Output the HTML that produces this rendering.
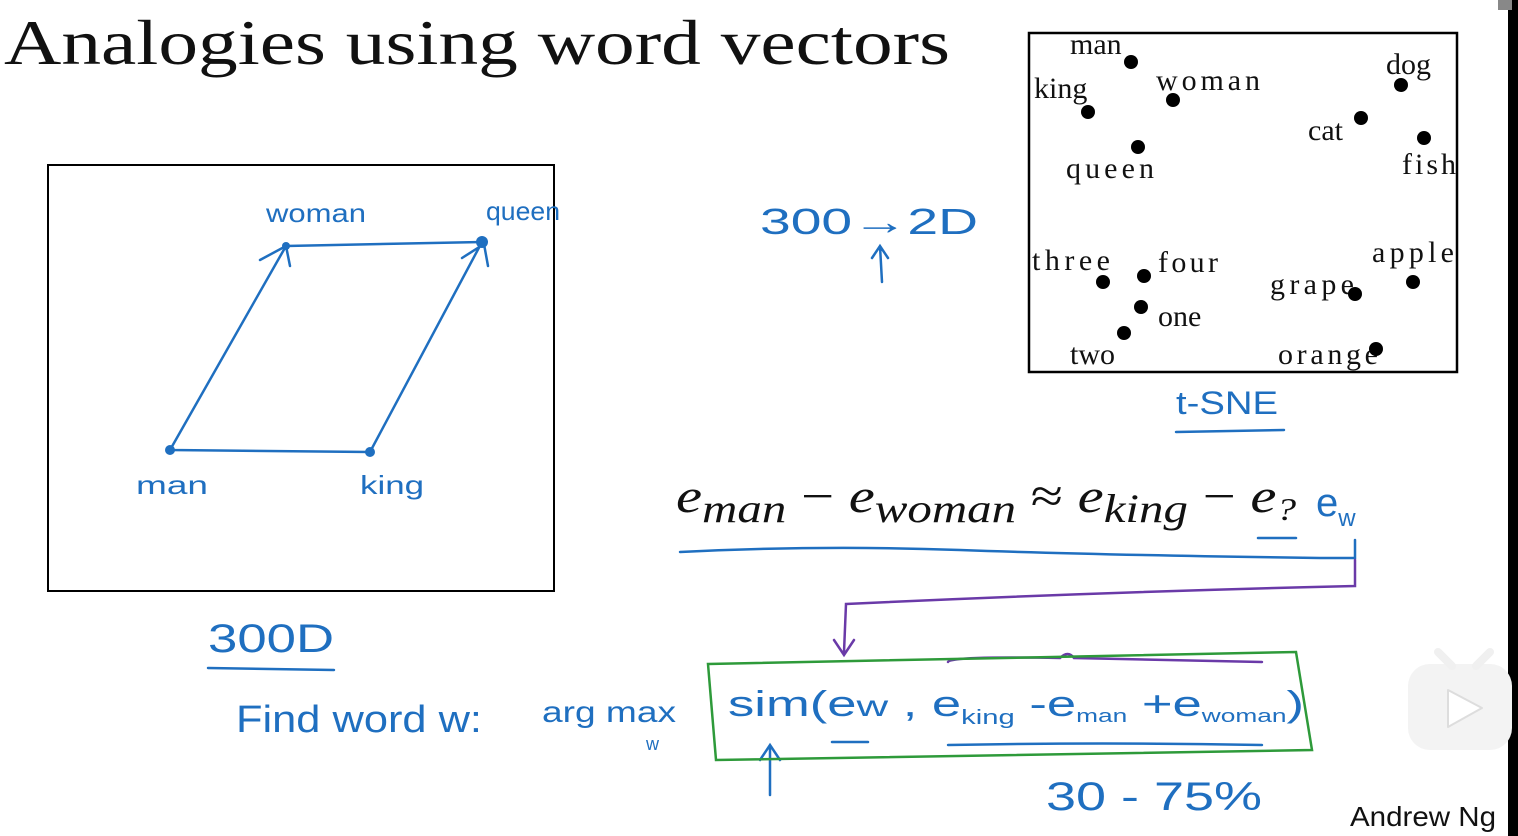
<!DOCTYPE html>
<html><head><meta charset="utf-8"><style>
html,body{margin:0;padding:0;background:#fff;}
svg{display:block}
.hw{font-family:"Liberation Sans",sans-serif;fill:#1f6fc0}
.sr{font-family:"Liberation Serif",serif;fill:#111}
</style></head><body>
<svg width="1518" height="836" viewBox="0 0 1518 836" xmlns="http://www.w3.org/2000/svg">
<rect width="1518" height="836" fill="#fff"/>
<rect x="1508" y="0" width="10" height="836" fill="#000"/>
<rect x="1498" y="0" width="14" height="10" fill="#888"/>
<text x="4" y="64" class="sr" font-size="64" textLength="946" lengthAdjust="spacingAndGlyphs">Analogies using word vectors</text>

<rect x="48" y="165" width="506" height="426" fill="none" stroke="#000" stroke-width="2"/>
<g stroke="#1f6fc0" stroke-width="2.5" fill="none" stroke-linecap="round">
<path d="M170 450 L286 246 M170 450 L370 452 M370 452 L482 242 M286 246 L482 242"/>
<path d="M260 260 L286 246 L290 266 M462 258 L484 244 L488 266"/>
<path d="M208 668 L334 670 M680 552 Q820 545 960 550 T1320 558 M1320 558 L1355 558 L1355 540"/>
<path d="M1176 432 L1284 430 M882 282 L880 246 M872 258 L880 246 L888 258 M770 795 L770 745 M760 760 L770 745 L780 760"/>
<path d="M948 745 Q1100 742 1262 745 M832 742 L868 742 M1258 538 L1296 538"/>
</g>
<circle cx="170" cy="450" r="5" fill="#1f6fc0"/><circle cx="286" cy="246" r="4" fill="#1f6fc0"/>
<circle cx="370" cy="452" r="5" fill="#1f6fc0"/><circle cx="482" cy="242" r="6" fill="#1f6fc0"/>
<text x="266" y="222" class="hw" font-size="26" textLength="100" lengthAdjust="spacingAndGlyphs">woman</text>
<text x="486" y="220" class="hw" font-size="26" textLength="74" lengthAdjust="spacingAndGlyphs">queen</text>
<text x="136" y="494" class="hw" font-size="26" textLength="72" lengthAdjust="spacingAndGlyphs">man</text>
<text x="360" y="494" class="hw" font-size="26" textLength="64" lengthAdjust="spacingAndGlyphs">king</text>
<text x="208" y="652" class="hw" font-size="40" textLength="126" lengthAdjust="spacingAndGlyphs">300D</text>
<text x="236" y="732" class="hw" font-size="38" textLength="246" lengthAdjust="spacingAndGlyphs">Find  word  w:</text>
<text x="542" y="722" class="hw" font-size="30" textLength="134" lengthAdjust="spacingAndGlyphs">arg max</text>
<text x="646" y="750" class="hw" font-size="18">w</text>
<text x="760" y="234" class="hw" font-size="36" textLength="218" lengthAdjust="spacingAndGlyphs">300→2D</text>
<text x="1176" y="414" class="hw" font-size="32" textLength="102" lengthAdjust="spacingAndGlyphs">t-SNE</text>
<text x="1046" y="810" class="hw" font-size="40" textLength="216" lengthAdjust="spacingAndGlyphs">30 - 75%</text>

<rect x="1029" y="33" width="428" height="339" fill="none" stroke="#000" stroke-width="2.5"/>
<g class="sr" font-size="30">
<text x="1070" y="54">man</text><text x="1034" y="98">king</text><text x="1156" y="90" textLength="104">woman</text>
<text x="1066" y="178" textLength="88">queen</text><text x="1386" y="74">dog</text><text x="1308" y="140">cat</text>
<text x="1402" y="174" textLength="54">fish</text><text x="1032" y="270" textLength="78">three</text><text x="1158" y="272" textLength="60">four</text>
<text x="1158" y="326">one</text><text x="1070" y="364">two</text><text x="1270" y="294" textLength="84">grape</text>
<text x="1372" y="262" textLength="82">apple</text><text x="1278" y="364" textLength="100">orange</text>
</g>
<g fill="#000">
<circle cx="1131" cy="62" r="7"/><circle cx="1088" cy="112" r="7"/><circle cx="1173" cy="100" r="7"/>
<circle cx="1138" cy="147" r="7"/><circle cx="1401" cy="85" r="7"/><circle cx="1361" cy="118" r="7"/>
<circle cx="1424" cy="138" r="7"/><circle cx="1103" cy="282" r="7"/><circle cx="1144" cy="276" r="7"/>
<circle cx="1141" cy="307" r="7"/><circle cx="1124" cy="333" r="7"/><circle cx="1355" cy="294" r="7"/>
<circle cx="1413" cy="282" r="7"/><circle cx="1376" cy="349" r="7"/>
</g>

<g font-family="'Liberation Serif',serif" font-style="italic" fill="#111">
<text x="676" y="512" font-size="48" textLength="620" lengthAdjust="spacingAndGlyphs">e<tspan font-size="40" dy="10">man</tspan><tspan dy="-10" font-style="normal"> − </tspan>e<tspan font-size="40" dy="10">woman</tspan><tspan dy="-10" font-style="normal"> ≈ </tspan>e<tspan font-size="40" dy="10">king</tspan><tspan dy="-10" font-style="normal"> − </tspan>e<tspan font-size="32" dy="8">?</tspan></text>
</g>
<text x="1316" y="516" class="hw" font-size="40">e<tspan font-size="24" dy="10">w</tspan></text>

<g stroke="#6a3aa8" stroke-width="2.5" fill="none" stroke-linecap="round">
<path d="M1355 560 L1355 586 Q1100 592 846 604 L844 652 M834 640 L844 655 L854 640"/>
<path d="M948 662 Q950 656 1060 658 Q1068 650 1074 658 L1262 662"/>
</g>
<path d="M708 664 L1296 652 L1312 750 L716 760 Z" fill="none" stroke="#2e9a3a" stroke-width="2.5"/>
<text x="728" y="716" class="hw" font-size="36" textLength="576" lengthAdjust="spacingAndGlyphs">sim(e<tspan font-size="30">w</tspan> ,  e<tspan font-size="20" dy="8">king</tspan><tspan dy="-8"> -e</tspan><tspan font-size="18" dy="6">man</tspan><tspan dy="-6"> +e</tspan><tspan font-size="18" dy="6">woman</tspan><tspan dy="-6">)</tspan></text>

<g>
<rect x="1408" y="664" width="104" height="86" rx="22" fill="#f3f3f3"/>
<path d="M1438 652 L1452 666 M1490 652 L1476 666" stroke="#f0f0f0" stroke-width="8" stroke-linecap="round"/>
<path d="M1448 690 L1482 708 L1448 727 Z" fill="#fff" stroke="#ddd" stroke-width="2" stroke-linejoin="round"/>
</g>
<text x="1350" y="826" font-family="'Liberation Sans',sans-serif" font-size="28" fill="#111" textLength="146" lengthAdjust="spacingAndGlyphs">Andrew Ng</text>
</svg>
</body></html>
